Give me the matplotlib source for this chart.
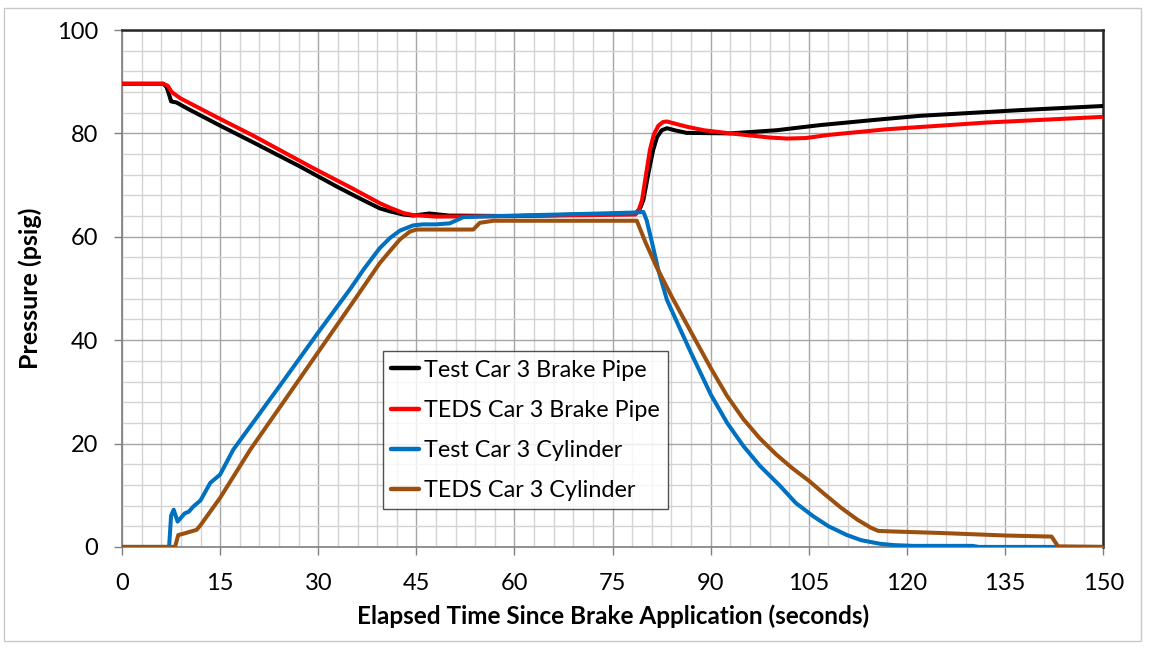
import matplotlib
matplotlib.use("Agg")
import matplotlib.pyplot as plt
from matplotlib.patches import Rectangle
from matplotlib.ticker import MultipleLocator

plt.rcParams['font.family'] = ['Lato', 'DejaVu Sans']

# Test Car 3 brake pipe pressure
t_test_bp = [0, 6.3, 6.8, 7.2, 7.5, 7.8, 8.3, 10, 15, 20, 27.2, 33, 37, 39.4, 41, 43,
             44.5, 47, 50, 60, 70, 78.5, 79.2, 79.7, 80.5, 81.2, 81.8, 82.5, 83.3,
             84.5, 86.3, 93, 100, 106.7, 115, 122, 137.3, 150]
p_test_bp = [89.6, 89.6, 89.0, 87.5, 86.2, 86.1, 86.0, 84.8, 81.5, 78.3, 73.6, 69.6,
             67.0, 65.5, 64.9, 64.3, 64.1, 64.5, 64.1, 64.0, 64.3, 64.5, 65.5, 67.1,
             72.5, 76.8, 79.3, 80.6, 81.0, 80.6, 80.1, 80.0, 80.6, 81.6, 82.6, 83.4,
             84.5, 85.3]

# TEDS Car 3 brake pipe pressure
t_teds_bp = [0, 6.3, 7.0, 7.6, 8.9, 15, 20, 29.2, 35, 39.4, 41, 43, 44.5, 48, 60,
             78.5, 79.0, 79.5, 80.1, 80.7, 81.3, 82.0, 82.7, 83.3, 84.5, 86.3, 89,
             93, 96, 99, 101.7, 104.5, 108, 116.9, 132.2, 150]
p_teds_bp = [89.6, 89.6, 89.2, 88.0, 86.8, 82.8, 79.6, 73.3, 69.5, 66.5, 65.6, 64.6,
             64.2, 63.9, 64.0, 64.3, 65.2, 67.1, 72.0, 76.8, 79.8, 81.5, 82.2, 82.3,
             81.9, 81.3, 80.6, 80.0, 79.6, 79.2, 79.0, 79.1, 79.7, 80.8, 82.1, 83.2]

# Test Car 3 brake cylinder pressure
t_test_cyl = [0, 7.2, 7.5, 7.9, 8.5, 9.6, 10.2, 10.9, 12, 13.5, 15, 17, 20, 25, 30,
              35, 37, 39.4, 41, 42.5, 44.5, 46, 48, 50.1, 52.2, 60, 70, 78.7, 79.7,
              80.2, 81, 82, 83.3, 85.3, 87, 90, 92.5, 95, 97.5, 100.6, 103, 105.7,
              108, 110.8, 113, 115.9, 118, 121, 130, 131, 150]
p_test_cyl = [0, 0, 6.0, 7.2, 4.9, 6.5, 6.8, 7.8, 9.0, 12.4, 14.0, 18.8, 24.0, 32.7,
              41.5, 50.1, 53.8, 57.8, 59.8, 61.2, 62.2, 62.4, 62.4, 62.6, 63.8, 64.1,
              64.4, 64.7, 64.8, 63.2, 59.0, 53.5, 47.8, 42.2, 37.5, 29.5, 24.0, 19.5,
              15.7, 11.8, 8.5, 5.9, 4.0, 2.3, 1.3, 0.6, 0.35, 0.2, 0.2, 0, 0]

# TEDS Car 3 brake cylinder pressure
t_teds_cyl = [0, 8.1, 8.6, 9.5, 11.4, 12, 15, 19.6, 25, 30, 35, 39.4, 41, 42.5, 44,
              45, 53.7, 54.7, 56.8, 78.7, 80, 81.7, 84, 86.8, 90, 92.5, 95, 97.5, 100,
              102.5, 105, 107.5, 110, 112.5, 114.5, 115.6, 117.5, 125, 135.2, 142.1,
              143.1, 150]
p_teds_cyl = [0, 0, 2.3, 2.6, 3.3, 4.2, 9.5, 18.8, 28.6, 37.7, 46.8, 54.9, 57.3, 59.5,
              61.0, 61.4, 61.4, 62.7, 63.1, 63.1, 59.0, 54.2, 48.5, 42.0, 34.6, 29.2,
              24.7, 21.0, 17.9, 15.2, 12.8, 10.1, 7.5, 5.2, 3.7, 3.1, 3.0, 2.7, 2.2,
              2.0, 0.1, 0]

series_labels = ["Test Car 3 Brake Pipe", "TEDS Car 3 Brake Pipe",
                 "Test Car 3 Cylinder", "TEDS Car 3 Cylinder"]
series_colors = ["#000000", "#ff0000", "#0070c0", "#9c5010"]

x_ticks = [0, 15, 30, 45, 60, 75, 90, 105, 120, 135, 150]
y_ticks = [0, 20, 40, 60, 80, 100]

fig = plt.figure(figsize=(11.51, 6.48), dpi=100)
ax = fig.add_axes([0.106, 0.156, 0.8525, 0.7977])

series = [(t_test_bp, p_test_bp), (t_teds_bp, p_teds_bp),
          (t_test_cyl, p_test_cyl), (t_teds_cyl, p_teds_cyl)]
for (tx, py), lab, col in zip(series, series_labels, series_colors):
    ax.plot(tx, py, color=col, lw=2.9, label=lab, solid_joinstyle='round',
            solid_capstyle='round', zorder=3)

ax.set_xlim(0, 150)
ax.set_ylim(0, 100)
ax.set_xticks(x_ticks)
ax.set_yticks(y_ticks)
ax.xaxis.set_minor_locator(MultipleLocator(3))
ax.yaxis.set_minor_locator(MultipleLocator(4))
ax.grid(which='major', color='#a6a6a6', lw=1.0, zorder=0)
ax.grid(which='minor', color='#d4d4d4', lw=1.0, zorder=0)
ax.set_axisbelow(True)

ax.tick_params(which='major', direction='out', length=6, width=1, color='#808080',
               labelsize=17, pad=11)
ax.tick_params(which='minor', length=0)
ax.tick_params(axis='x', pad=13)

for s in ['top', 'right']:
    ax.spines[s].set_color('#262626')
    ax.spines[s].set_linewidth(1.8)
for s in ['left', 'bottom']:
    ax.spines[s].set_color('#7f7f7f')
    ax.spines[s].set_linewidth(1.2)

ax.set_xlabel("Elapsed Time Since Brake Application (seconds)", fontsize=17.5,
              fontweight='bold', labelpad=7)
ax.set_ylabel("Pressure (psig)", fontsize=18, fontweight='bold', labelpad=11)

leg = ax.legend(loc='lower left', bbox_to_anchor=(0.266, 0.073), fontsize=16.8,
                frameon=True, fancybox=False, edgecolor='#262626',
                handlelength=1.2, handletextpad=0.2, borderpad=0.35,
                labelspacing=0.82, borderaxespad=0)
leg.get_frame().set_linewidth(1.0)
for line in leg.get_lines():
    line.set_linewidth(3.2)

fig.patches.append(Rectangle((4 / 1151, 1 - 641 / 648), 1137 / 1151, 633 / 648,
                             transform=fig.transFigure, fill=False,
                             edgecolor='#c8c8c8', lw=1.0))

fig.savefig("out.png", dpi=100)
